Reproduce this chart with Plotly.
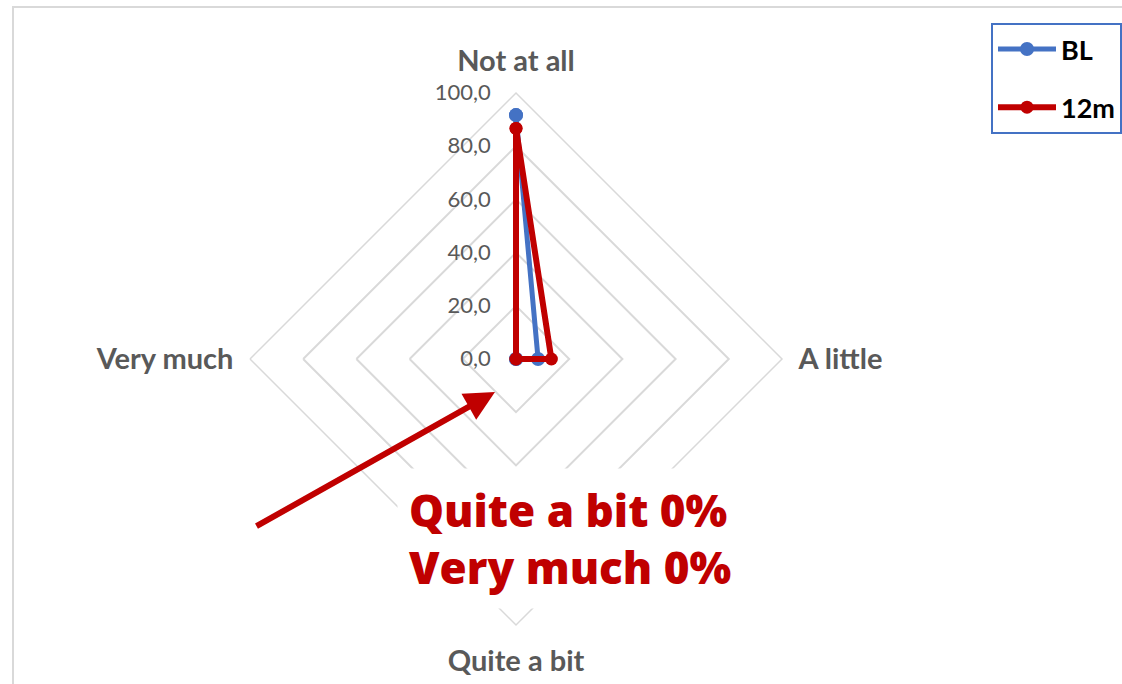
import plotly.graph_objects as go

# Response categories, going clockwise from the top
categories = ["Not at all", "A little", "Quite a bit", "Very much"]
# Share of patients (%) per category
bl_values = [91.7, 8.3, 0.0, 0.0]
m12_values = [86.7, 13.3, 0.0, 0.0]
radial_ticks = [0, 20, 40, 60, 80, 100]
note_lines = ["Quite a bit 0%", "Very much 0%"]

W, H = 1122, 684
cx, cy, R = 516, 359, 266  # centre and outer radius of the radar, in px

GRID = "#D9D9D9"
LABEL = "#595959"
BLUE = "#4472C4"
RED = "#C00000"


def closed(seq):
    return list(seq) + list(seq[:1])


domain = dict(x=[(cx - R) / W, (cx + R) / W],
              y=[(H - cy - R) / H, (H - cy + R) / H])

# Series live on a transparent overlay subplot with the same scales, so that
# the markers sitting at r = 0 (the centre) are kept visible.
fig = go.Figure()
fig.add_trace(go.Scatterpolar(
    r=closed(bl_values), theta=closed(categories), name="BL",
    legendgroup="bl", mode="lines+markers", subplot="polar2",
    line=dict(color=BLUE, width=5), marker=dict(size=14, color=BLUE),
))
fig.add_trace(go.Scatterpolar(
    r=closed(m12_values), theta=closed(categories), name="12m",
    legendgroup="m12", mode="lines+markers", subplot="polar2",
    line=dict(color=RED, width=6), marker=dict(size=13, color=RED),
))
# invisible trace keeping the diamond grid subplot active
fig.add_trace(go.Scatterpolar(
    r=[0], theta=[categories[0]], mode="markers", subplot="polar",
    marker=dict(opacity=0), showlegend=False, hoverinfo="skip",
))

fig.update_layout(
    width=W, height=H,
    margin=dict(l=0, r=0, t=0, b=0),
    paper_bgcolor="white",
    separators=",.",
    showlegend=True,
    polar=dict(
        domain=domain,
        gridshape="linear",
        bgcolor="white",
        angularaxis=dict(
            rotation=90, direction="clockwise",
            categoryorder="array", categoryarray=categories,
            showgrid=False, showline=True, linecolor=GRID, linewidth=1.5,
            ticks="outside", ticklen=10, tickcolor="rgba(0,0,0,0)",
            tickfont=dict(family="Lato", size=29, color=LABEL, weight="bold"),
        ),
        radialaxis=dict(
            range=[0, 100], tickvals=radial_ticks, tickformat=".1f",
            angle=90, tickangle=90, side="counterclockwise",
            showline=False, gridcolor=GRID, gridwidth=1.5,
            ticks="outside", ticklen=17, tickcolor="rgba(0,0,0,0)",
            tickfont=dict(family="Lato", size=22, color=LABEL),
        ),
    ),
    polar2=dict(
        domain=domain,
        bgcolor="rgba(0,0,0,0)",
        angularaxis=dict(
            rotation=90, direction="clockwise",
            categoryorder="array", categoryarray=categories,
            showgrid=False, showline=False, showticklabels=False, ticks="",
        ),
        radialaxis=dict(
            range=[0, 100], showgrid=False, showline=False,
            showticklabels=False, ticks="",
        ),
    ),
    legend=dict(
        x=991 / W, y=1 - 23 / H, xanchor="left", yanchor="top",
        bordercolor=BLUE, borderwidth=2, bgcolor="white",
        traceorder="grouped", tracegroupgap=20, itemwidth=58,
        font=dict(family="Lato", size=27, color="black", weight="bold"),
    ),
    shapes=[dict(
        type="rect", xref="paper", yref="paper",
        x0=13 / W, x1=1.1, y0=-0.1, y1=1 - 7 / H,
        line=dict(color=GRID, width=2), layer="above",
    )],
    annotations=[
        dict(
            xref="paper", yref="paper", x=495 / W, y=1 - 392 / H,
            axref="pixel", ayref="pixel", ax=-240, ay=135,
            text="", showarrow=True, arrowhead=2, arrowsize=1.0,
            arrowwidth=6, arrowcolor=RED, standoff=0,
        ),
        dict(
            xref="paper", yref="paper", x=570 / W, y=1 - 538 / H,
            xanchor="center", yanchor="middle", showarrow=False,
            text="<br>".join(note_lines), align="left",
            bgcolor="white", borderpad=11,
            font=dict(family="Open Sans", size=44, color=RED, weight=800),
        ),
    ],
)

fig.write_html("out.html")
